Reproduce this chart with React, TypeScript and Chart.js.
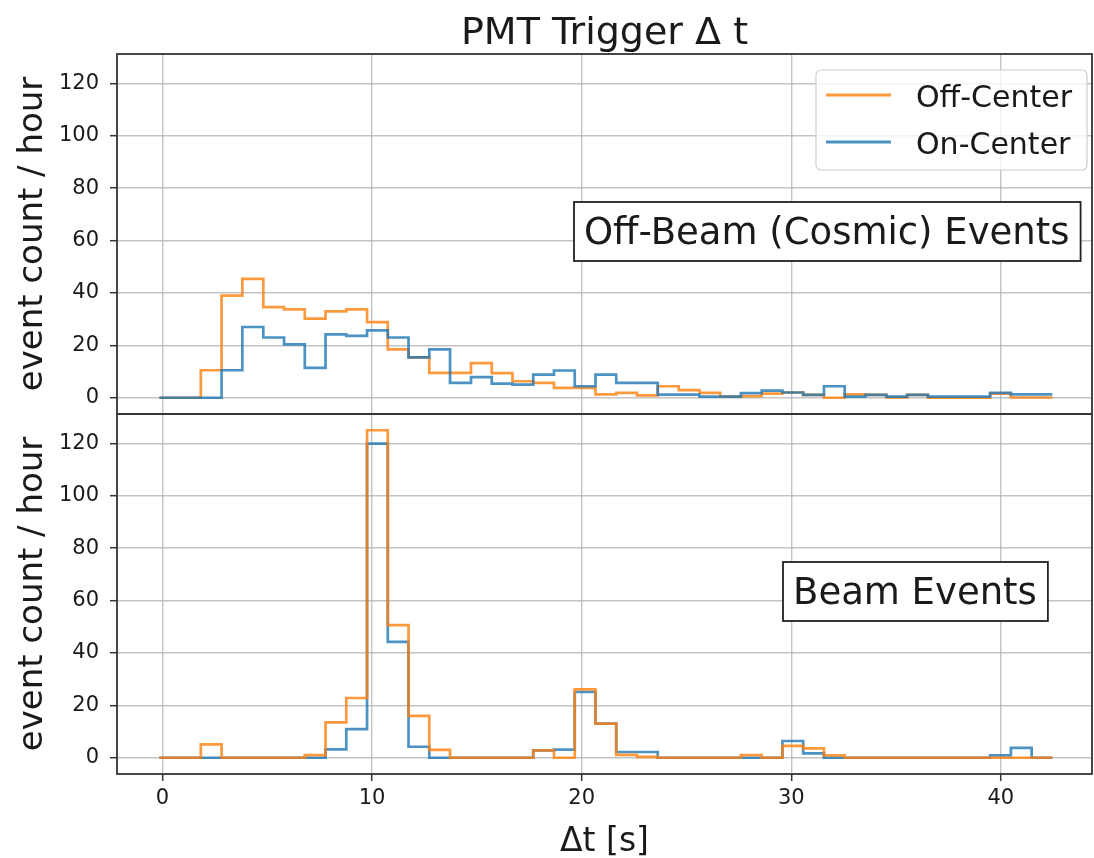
import React, { useEffect, useRef } from 'react';
import { Chart, registerables } from 'chart.js';

Chart.register(...registerables);

// ---- data ----
const binEdges = [
  -0.15, 0.84, 1.83, 2.82, 3.81, 4.81, 5.8, 6.79, 7.78, 8.77, 9.76, 10.75, 11.74, 12.73, 13.72,
  14.72, 15.71, 16.7, 17.69, 18.68, 19.67, 20.66, 21.65, 22.64, 23.63, 24.63, 25.62, 26.61, 27.6,
  28.59, 29.58, 30.57, 31.56, 32.55, 33.54, 34.54, 35.53, 36.52, 37.51, 38.5, 39.49, 40.48, 41.47, 42.46,
];
const xTicks = [0, 10, 20, 30, 40];
const yTicks = [0, 20, 40, 60, 80, 100, 120];
const seriesNames = ['Off-Center', 'On-Center'];

const offBeamOffCenter = [
  0, 0, 10.5, 39, 45.4, 34.6, 33.7, 30.2, 33, 33.7, 28.9, 18.5, 15.4, 9.5, 9.5,
  13.2, 9.4, 6.3, 5.7, 3.8, 3.8, 1.3, 1.9, 0.9, 4.4, 2.9, 1.9, 0.4, 0.6,
  1.6, 2.0, 1.1, 0, 1.3, 1.1, 0.1, 1.1, 0, 0, 0, 1.6, 0.1, 0.1,
];
const offBeamOnCenter = [
  0, 0, 0, 10.5, 27, 23, 20.4, 11.4, 24.2, 23.6, 25.7, 23, 15.4, 18.5, 5.7,
  7.9, 5.4, 5.0, 8.8, 10.4, 4.4, 8.8, 5.7, 5.7, 1.2, 1.2, 0.4, 0.4, 1.8,
  2.7, 2.0, 1.1, 4.4, 0.4, 1.1, 0.4, 1.1, 0.4, 0.4, 0.4, 1.9, 1.3, 1.3,
];
const beamOffCenter = [
  0, 0, 5.1, 0, 0, 0, 0, 1.0, 13.5, 22.8, 125, 50.6, 16, 3.0, 0,
  0, 0, 0, 2.8, 0, 26.1, 13.0, 1.1, 0.3, 0, 0, 0, 0, 1.0,
  0, 4.5, 3.6, 0.9, 0, 0, 0, 0, 0, 0, 0, 0, 0, 0,
];
const beamOnCenter = [
  0, 0, 0, 0, 0, 0, 0, 0, 3.2, 10.9, 119.9, 44.2, 4.2, 0, 0,
  0, 0, 0, 2.8, 3.1, 25.1, 13.0, 2.2, 2.2, 0, 0, 0, 0, 0,
  0, 6.4, 1.7, 0, 0, 0, 0, 0, 0, 0, 0, 0.9, 3.8, 0,
];

const titleText = 'PMT Trigger \u0394 t';
const yTitle = 'event count / hour';
const xTitle = '\u0394t [s]';
const panelLabels = ['Off-Beam (Cosmic) Events', 'Beam Events'];

// ---- styles ----
const W = 1094;
const H = 858;
const FONT = '"DejaVu Sans", "Liberation Sans", sans-serif';
const ORANGE = 'rgba(255,127,14,0.8)';
const BLUE = 'rgba(31,119,180,0.8)';
const GRID = 'rgba(176,176,176,0.75)';
const AXIS = '#333333';
const TEXT = '#1a1a1a';
const X_MIN = -2.17;
const X_MAX = 44.35;
const Y_MIN = -6.2;
const Y_MAX = 131.2;

function stepPoints(values: number[]) {
  return binEdges.map((x, i) => ({ x, y: values[Math.min(i, values.length - 1)] }));
}

function drawBoxedText(ctx: CanvasRenderingContext2D, text: string, x: number, baseline: number) {
  ctx.font = `37px ${FONT}`;
  const w = ctx.measureText(text).width;
  const left = x - 10;
  const top = baseline - 42;
  const bw = w + 21;
  const bh = 59;
  ctx.fillStyle = '#ffffff';
  ctx.fillRect(left, top, bw, bh);
  ctx.strokeStyle = '#222222';
  ctx.lineWidth = 1.8;
  ctx.strokeRect(left, top, bw, bh);
  ctx.fillStyle = TEXT;
  ctx.textAlign = 'left';
  ctx.textBaseline = 'alphabetic';
  ctx.fillText(text, x, baseline);
}

function roundRect(ctx: CanvasRenderingContext2D, x: number, y: number, w: number, h: number, r: number) {
  ctx.beginPath();
  ctx.moveTo(x + r, y);
  ctx.lineTo(x + w - r, y);
  ctx.arcTo(x + w, y, x + w, y + r, r);
  ctx.lineTo(x + w, y + h - r);
  ctx.arcTo(x + w, y + h, x + w - r, y + h, r);
  ctx.lineTo(x + r, y + h);
  ctx.arcTo(x, y + h, x, y + h - r, r);
  ctx.lineTo(x, y + r);
  ctx.arcTo(x, y, x + r, y, r);
  ctx.closePath();
}

function overlayPlugin(isBottom: boolean) {
  return {
    id: isBottom ? 'overlayBottom' : 'overlayTop',
    afterDraw(chart: any) {
      const ctx: CanvasRenderingContext2D = chart.ctx;
      const a = chart.chartArea;
      const cx = (a.left + a.right) / 2;
      ctx.save();
      // frame
      ctx.strokeStyle = AXIS;
      ctx.lineWidth = 1.8;
      ctx.strokeRect(a.left, a.top, a.right - a.left, a.bottom - a.top);

      // y title
      ctx.save();
      ctx.fillStyle = TEXT;
      ctx.font = `34px ${FONT}`;
      ctx.translate(42, (a.top + a.bottom) / 2);
      ctx.rotate(-Math.PI / 2);
      ctx.textAlign = 'center';
      ctx.textBaseline = 'alphabetic';
      ctx.fillText(yTitle, 0, 0);
      ctx.restore();

      if (!isBottom) {
        // main title
        ctx.fillStyle = TEXT;
        ctx.font = `38px ${FONT}`;
        ctx.textAlign = 'center';
        ctx.textBaseline = 'alphabetic';
        ctx.fillText(titleText, cx, 44);

        drawBoxedText(ctx, panelLabels[0], 584, 244);

        // legend
        const lx = 816, ly = 70, lw = 271, lh = 100;
        roundRect(ctx, lx, ly, lw, lh, 5);
        ctx.fillStyle = 'rgba(255,255,255,0.8)';
        ctx.fill();
        ctx.strokeStyle = '#d0d0d0';
        ctx.lineWidth = 1.2;
        ctx.stroke();
        const items = [
          { name: seriesNames[0], color: ORANGE, y: 95 },
          { name: seriesNames[1], color: BLUE, y: 142 },
        ];
        ctx.font = `30px ${FONT}`;
        ctx.textAlign = 'left';
        ctx.textBaseline = 'alphabetic';
        for (const it of items) {
          ctx.strokeStyle = it.color;
          ctx.lineWidth = 2.8;
          ctx.beginPath();
          ctx.moveTo(826, it.y);
          ctx.lineTo(891, it.y);
          ctx.stroke();
          ctx.fillStyle = TEXT;
          ctx.fillText(it.name, 916, it.y + 11.5);
        }
      } else {
        drawBoxedText(ctx, panelLabels[1], 793, 604);
        // x title
        ctx.fillStyle = TEXT;
        ctx.font = `33px ${FONT}`;
        ctx.textAlign = 'center';
        ctx.textBaseline = 'alphabetic';
        ctx.fillText(xTitle, cx, 851);
      }
      ctx.restore();
    },
  };
}

function panelConfig(isBottom: boolean): any {
  const off = isBottom ? beamOffCenter : offBeamOffCenter;
  const on = isBottom ? beamOnCenter : offBeamOnCenter;
  const dsOff = {
    label: seriesNames[0],
    data: stepPoints(off),
    borderColor: ORANGE,
    borderWidth: 2.7,
    stepped: true,
    pointRadius: 0,
    fill: false,
  };
  const dsOn = {
    label: seriesNames[1],
    data: stepPoints(on),
    borderColor: BLUE,
    borderWidth: 2.7,
    stepped: true,
    pointRadius: 0,
    fill: false,
  };
  // first dataset is drawn on top
  const datasets = isBottom ? [dsOff, dsOn] : [dsOn, dsOff];
  return {
    type: 'line',
    data: { datasets },
    options: {
      animation: false,
      responsive: false,
      maintainAspectRatio: false,
      events: [],
      layout: { padding: { left: 0, right: 2, top: isBottom ? 414 : 54, bottom: isBottom ? 0 : 444 } },
      plugins: { legend: { display: false }, title: { display: false }, tooltip: { enabled: false } },
      scales: {
        x: {
          type: 'linear',
          min: X_MIN,
          max: X_MAX,
          afterBuildTicks: (s: any) => {
            s.ticks = xTicks.map((v) => ({ value: v }));
          },
          afterFit: (s: any) => {
            s.height = isBottom ? 84 : 0;
          },
          ticks: {
            display: isBottom,
            font: { family: FONT, size: 21 },
            color: TEXT,
            padding: 5,
            maxRotation: 0,
            autoSkip: false,
          },
          grid: {
            color: GRID,
            lineWidth: 1.4,
            drawTicks: isBottom,
            tickLength: 7,
            tickColor: AXIS,
            tickWidth: 1.5,
          },
          border: { display: false },
        },
        y: {
          type: 'linear',
          min: Y_MIN,
          max: Y_MAX,
          afterBuildTicks: (s: any) => {
            s.ticks = yTicks.map((v) => ({ value: v }));
          },
          afterFit: (s: any) => {
            s.width = 117;
          },
          ticks: {
            font: { family: FONT, size: 21 },
            color: TEXT,
            padding: 11,
            autoSkip: false,
          },
          grid: {
            color: GRID,
            lineWidth: 1.4,
            drawTicks: true,
            tickLength: 7,
            tickColor: AXIS,
            tickWidth: 1.5,
          },
          border: { display: false },
        },
      },
    },
    plugins: [overlayPlugin(isBottom)],
  };
}

export default function App() {
  const topRef = useRef<HTMLCanvasElement>(null);
  const botRef = useRef<HTMLCanvasElement>(null);

  useEffect(() => {
    const charts: Chart[] = [];
    if (topRef.current) charts.push(new Chart(topRef.current, panelConfig(false)));
    if (botRef.current) charts.push(new Chart(botRef.current, panelConfig(true)));
    return () => {
      charts.forEach((c) => c.destroy());
    };
  }, []);

  const canvasStyle: React.CSSProperties = {
    position: 'absolute',
    left: 0,
    top: 0,
    width: W,
    height: H,
  };

  return (
    <div style={{ position: 'fixed', left: 0, top: 0, width: W, height: H, background: '#ffffff' }}>
      <canvas ref={topRef} width={W} height={H} style={canvasStyle} />
      <canvas ref={botRef} width={W} height={H} style={canvasStyle} />
    </div>
  );
}
